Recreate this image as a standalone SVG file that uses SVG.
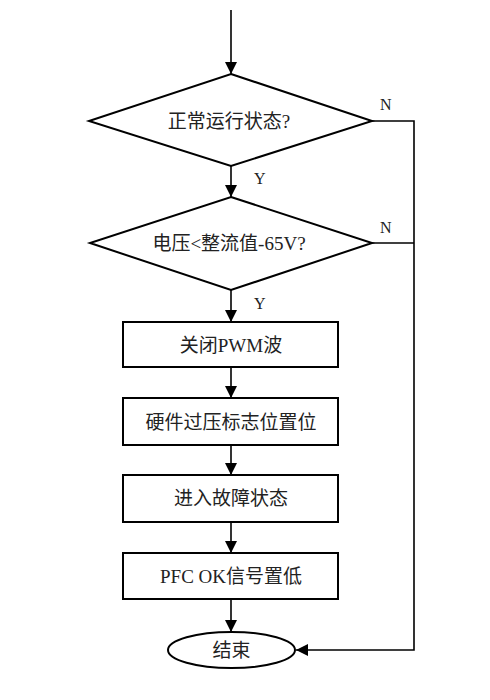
<svg xmlns="http://www.w3.org/2000/svg" width="490" height="700" viewBox="0 0 490 700">
<style>
.s{fill:#fff;stroke:#000;stroke-width:2}
.c{fill:none;stroke:#000;stroke-width:1.6}
.t{font-family:"Liberation Serif","Noto Sans CJK SC",serif;font-size:19px;fill:#222;text-anchor:middle;dominant-baseline:central}
.l{font-family:"Liberation Serif","Noto Sans CJK SC",serif;font-size:16px;fill:#222}
</style>
<defs>
<marker id="a" markerWidth="12" markerHeight="12" viewBox="0 0 12 12" refX="12" refY="6" orient="auto" markerUnits="userSpaceOnUse">
<path d="M0,0 L12,6 L0,12 Z" fill="#000"/>
</marker>
</defs>
<g id="connectors">
<line class="c" x1="231" y1="10" x2="231" y2="74" marker-end="url(#a)"/>
<line class="c" x1="231" y1="166" x2="231" y2="197" marker-end="url(#a)"/>
<line class="c" x1="231" y1="290" x2="231" y2="322" marker-end="url(#a)"/>
<line class="c" x1="231" y1="367" x2="231" y2="398" marker-end="url(#a)"/>
<line class="c" x1="231" y1="445" x2="231" y2="475" marker-end="url(#a)"/>
<line class="c" x1="231" y1="522" x2="231" y2="553" marker-end="url(#a)"/>
<line class="c" x1="231" y1="599" x2="231" y2="632" marker-end="url(#a)"/>
<polyline class="c" points="372,121 414,121 414,650 296,650" marker-end="url(#a)"/>
<line class="c" x1="372" y1="243" x2="414" y2="243"/>
<text class="l" x="254" y="184">Y</text>
<text class="l" x="254" y="309">Y</text>
<text class="l" x="380" y="110">N</text>
<text class="l" x="380" y="233">N</text>
</g>
<g id="d1">
<polygon class="s" points="231,74 372,121 231,166 89,121"/>
<text class="t" x="229" y="121">正常运行状态?</text>
</g>
<g id="d2">
<polygon class="s" points="231,197 372,243 231,290 90,243"/>
<text class="t" x="229" y="243">电压&lt;整流值-65V?</text>
</g>
<g id="r1">
<rect class="s" x="123" y="322" width="215" height="45"/>
<text class="t" x="231" y="345">关闭PWM波</text>
</g>
<g id="r2">
<rect class="s" x="123" y="398" width="215" height="47"/>
<text class="t" x="231" y="422">硬件过压标志位置位</text>
</g>
<g id="r3">
<rect class="s" x="123" y="475" width="215" height="47"/>
<text class="t" x="231" y="498">进入故障状态</text>
</g>
<g id="r4">
<rect class="s" x="123" y="553" width="215" height="46"/>
<text class="t" x="231" y="576">PFC OK信号置低</text>
</g>
<g id="end">
<ellipse class="s" cx="231.5" cy="650" rx="63.5" ry="18"/>
<text class="t" x="231.5" y="650">结束</text>
</g>
</svg>
